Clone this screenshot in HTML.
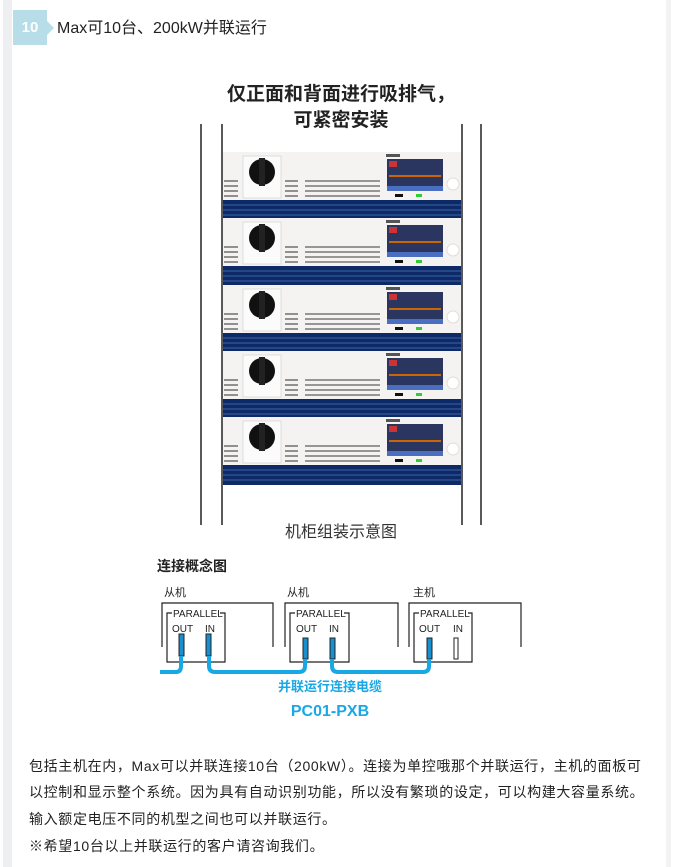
<!DOCTYPE html>
<html><head><meta charset="utf-8"><style>
body{margin:0;background:#fff;width:676px;height:867px;position:relative;overflow:hidden;font-family:"Liberation Sans","Noto Sans CJK SC",sans-serif;}
.strip{position:absolute;left:3px;top:0;width:9px;height:867px;background:#eeeff1}
.rstrip{position:absolute;left:666px;top:0;width:5px;height:867px;background:#f3f3f4}
.badge{position:absolute;left:13px;top:10px;width:34px;height:35px;background:#b7dde8;color:#fff;font-weight:bold;font-size:15px;line-height:35px;text-align:center}
.badge:after{content:"";position:absolute;right:-7px;top:11px;border-left:7px solid #b7dde8;border-top:7px solid transparent;border-bottom:7px solid transparent}
.title{position:absolute;left:57px;top:14px;font-size:16px;color:#222}
.p{position:absolute;left:29px;font-size:14px;letter-spacing:0.65px;color:#222;line-height:28px;white-space:nowrap}
</style></head><body>
<div class="strip"></div><div class="rstrip"></div>
<div class="badge">10</div>
<div class="title">Max可10台、200kW并联运行</div>
<svg width="676" height="867" style="position:absolute;left:0;top:0" font-family="Liberation Sans,Noto Sans CJK SC,sans-serif">
<defs>
<g id="u">
<rect x="223" y="0" width="238" height="48" fill="#f4f3f1"/>
<rect x="243" y="4" width="38" height="42" fill="#fbfbfb" stroke="#ddd"/>
<circle cx="262" cy="20" r="13" fill="#111"/>
<rect x="259" y="6" width="6" height="28" fill="#222"/>
<g stroke="#777" stroke-width="1.6">
<line x1="224" y1="29" x2="238" y2="29"/><line x1="224" y1="34" x2="238" y2="34"/><line x1="224" y1="39" x2="238" y2="39"/><line x1="224" y1="44" x2="238" y2="44"/>
<line x1="285" y1="29" x2="298" y2="29"/><line x1="285" y1="34" x2="298" y2="34"/><line x1="285" y1="39" x2="298" y2="39"/><line x1="285" y1="44" x2="298" y2="44"/>
<line x1="305" y1="29" x2="380" y2="29"/><line x1="305" y1="34" x2="380" y2="34"/><line x1="305" y1="39" x2="380" y2="39"/><line x1="305" y1="44" x2="380" y2="44"/>
</g>
<rect x="386" y="2" width="14" height="3" fill="#555"/>
<rect x="387" y="7" width="56" height="32" fill="#2a3560"/>
<rect x="389" y="9" width="8" height="6" fill="#c33"/>
<rect x="389" y="23" width="52" height="2" fill="#c60"/>
<rect x="387" y="34" width="56" height="5" fill="#4a6ec0"/>
<circle cx="453" cy="32" r="6" fill="#fff" stroke="#ddd"/>
<rect x="395" y="42" width="8" height="3" fill="#111"/>
<rect x="416" y="42" width="6" height="3" fill="#3c3"/>
<rect x="223" y="48" width="238" height="20" fill="#0e2a66"/>
<g stroke="#3f64a8" stroke-width="1"><line x1="223" y1="53" x2="461" y2="53"/><line x1="223" y1="58" x2="461" y2="58"/><line x1="223" y1="63" x2="461" y2="63"/></g>
</g>
</defs>
<text x="341" y="100" font-size="19" font-weight="bold" text-anchor="middle" fill="#222">仅正面和背面进行吸排气，</text>
<text x="341" y="126" font-size="19" font-weight="bold" text-anchor="middle" fill="#222">可紧密安装</text>
<g stroke="#222" stroke-width="1.5">
<line x1="201" y1="124" x2="201" y2="525"/><line x1="481" y1="124" x2="481" y2="525"/>
<line x1="222" y1="124" x2="222" y2="525"/><line x1="462" y1="124" x2="462" y2="525"/>
</g>
<use href="#u" y="152"/><use href="#u" y="218"/><use href="#u" y="285"/><use href="#u" y="351"/><use href="#u" y="417"/>
<text x="341" y="537" font-size="16" text-anchor="middle" fill="#333">机柜组装示意图</text>
<text x="157" y="571" font-size="14" font-weight="bold" fill="#222">连接概念图</text>
<g font-size="11" fill="#222"><text x="164" y="596">从机</text><text x="287" y="596">从机</text><text x="413" y="596">主机</text></g>
<g fill="none" stroke="#222" stroke-width="1.2">
<path d="M162 647V603H273V647"/><path d="M285 647V603H398V647"/><path d="M409 647V603H521V647"/>
<path d="M172 613H167V662H225V613H220"/><path d="M295 613H290V662H349V613H344"/><path d="M419 613H414V662H472V613H468"/>
</g>
<g font-size="10" fill="#222"><text x="173" y="617">PARALLEL</text><text x="296" y="617">PARALLEL</text><text x="420" y="617">PARALLEL</text>
<text x="172" y="632">OUT</text><text x="205" y="632">IN</text><text x="296" y="632">OUT</text><text x="329" y="632">IN</text><text x="419" y="632">OUT</text><text x="453" y="632">IN</text></g>
<g stroke="#222" stroke-width="1"><rect x="179" y="634" width="5" height="22" fill="#1a8fd0"/><rect x="206" y="634" width="5" height="22" fill="#1a8fd0"/><rect x="303" y="638" width="5" height="21" fill="#1a8fd0"/><rect x="330" y="638" width="5" height="21" fill="#1a8fd0"/><rect x="427" y="638" width="5" height="21" fill="#1a8fd0"/><rect x="454" y="638" width="4" height="21" fill="#fff"/></g>
<g fill="none" stroke="#19a8e6" stroke-width="4" stroke-linejoin="round">
<path d="M160 672H176Q181 672 181 666V656"/>
<path d="M209 656V666Q209 672 215 672H299Q305 672 305 666V659"/>
<path d="M332 659V666Q332 672 338 672H423Q429 672 429 666V659"/>
</g>
<text x="330" y="691" font-size="13" font-weight="bold" fill="#19a8e6" text-anchor="middle">并联运行连接电缆</text>
<text x="330" y="716" font-size="16" font-weight="bold" fill="#19a8e6" text-anchor="middle">PC01-PXB</text>
</svg>
<div class="p" style="top:752px">包括主机在内，Max可以并联连接10台（200kW）。连接为单控哦那个并联运行，主机的面板可</div>
<div class="p" style="top:778px">以控制和显示整个系统。因为具有自动识别功能，所以没有繁琐的设定，可以构建大容量系统。</div>
<div class="p" style="top:805px">输入额定电压不同的机型之间也可以并联运行。</div>
<div class="p" style="top:832px">※希望10台以上并联运行的客户请咨询我们。</div>
</body></html>
